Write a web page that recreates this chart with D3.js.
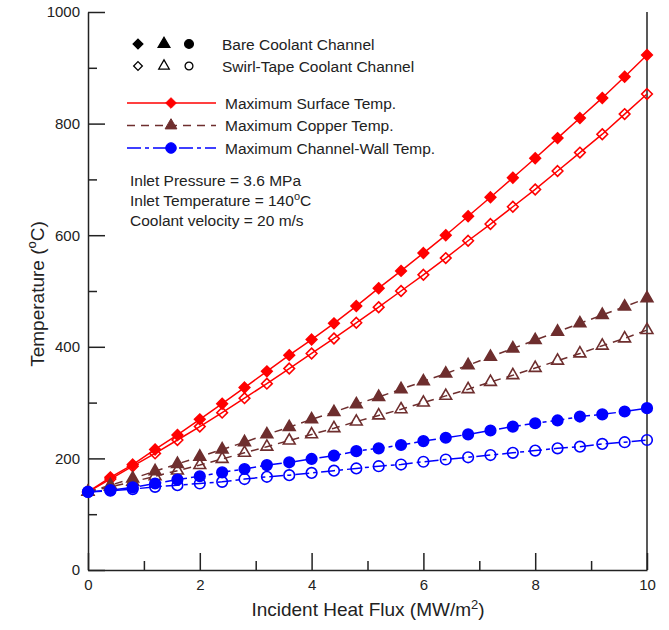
<!DOCTYPE html>
<html>
<head>
<meta charset="utf-8">
<script src="https://cdn.jsdelivr.net/npm/d3@7"></script>
<style>
body { margin: 0; background: #fff; }
text { font-family: "Liberation Sans", Arial, sans-serif; fill: #222; }
</style>
</head>
<body>
<svg id="chart" width="669" height="630"></svg>
<script>
// data
var heatFlux = [0, 0.4, 0.8, 1.2, 1.6, 2.0, 2.4, 2.8, 3.2, 3.6, 4.0, 4.4, 4.8, 5.2, 5.6, 6.0, 6.4, 6.8, 7.2, 7.6, 8.0, 8.4, 8.8, 9.2, 9.6, 10]
var surfaceBare = [140, 166, 189, 216, 242, 270, 298, 327, 356, 385, 413, 442, 473, 505, 536, 568, 600, 634, 668, 703, 738, 774, 810, 846, 884, 923]
var surfaceSwirl = [140, 163, 186, 209, 233, 257, 282, 308, 334, 361, 388, 415, 443, 471, 500, 529, 559, 590, 620, 651, 682, 715, 748, 781, 817, 853]
var copperBare = [140, 152, 164, 177, 190, 203, 216, 229, 243, 256, 270, 283, 297, 310, 324, 338, 352, 367, 382, 397, 412, 427, 442, 457, 472, 487]
var copperSwirl = [140, 149, 158, 168, 178, 188, 199, 210, 221, 232, 243, 254, 266, 277, 288, 300, 312, 324, 337, 349, 362, 375, 388, 402, 415, 430]
var wallBare = [140, 143, 148, 155, 162, 168, 175, 181, 188, 193, 199, 205, 213, 218, 224, 231, 237, 243, 250, 257, 263, 268, 275, 279, 284, 290]
var wallSwirl = [140, 142, 145, 149, 152, 155, 158, 163, 167, 170, 174, 178, 182, 186, 189, 194, 198, 202, 206, 210, 214, 218, 221, 226, 229, 233]

var xMajor = [0, 2, 4, 6, 8, 10], xMinor = [1, 3, 5, 7, 9]
var yMajor = [0, 200, 400, 600, 800, 1000], yMinor = [100, 300, 500, 700, 900]

var seriesNames = ["Maximum Surface Temp.", "Maximum Copper Temp.", "Maximum Channel-Wall Temp."]
var seriesColors = ["#ff0000", "#6e2e2e", "#0000ff"]
var seriesDash = [null, "8,6", "14,4,4,4"]
var seriesShape = [d3.symbolDiamond2, d3.symbolTriangle, d3.symbolCircle]
var seriesSize = [72, 60, 88]
var bare = [surfaceBare, copperBare, wallBare]
var swirl = [surfaceSwirl, copperSwirl, wallSwirl]

var svg = d3.select("#chart")

var x = d3.scaleLinear().domain([0, 10]).range([88, 647])
var y = d3.scaleLinear().domain([0, 1000]).range([570, 12])

// axes, ticks pointing inward
var gx = svg.append("g").attr("transform", "translate(0,570)")
gx.call(d3.axisBottom(x).tickValues(xMajor).tickFormat(d3.format("d")).tickSizeInner(-17).tickSizeOuter(0).tickPadding(9))
gx.append("g").call(d3.axisBottom(x).tickValues(xMinor).tickSizeInner(-9).tickSizeOuter(0).tickFormat(""))
  .select(".domain").remove()

var gy = svg.append("g").attr("transform", "translate(88,0)")
gy.call(d3.axisLeft(y).tickValues(yMajor).tickFormat(d3.format("d")).tickSizeInner(-17).tickSizeOuter(0).tickPadding(8))
gy.append("g").call(d3.axisLeft(y).tickValues(yMinor).tickSizeInner(-9).tickSizeOuter(0).tickFormat(""))
  .select(".domain").remove()

svg.selectAll(".tick text").style("font-size", "15px").style("font-family", '"Liberation Sans", Arial, sans-serif').attr("fill", "#222")
svg.selectAll(".domain, .tick line").attr("stroke", "#222").attr("stroke-width", 1.5)

svg.append("line")
  .attr("x1", x(10)).attr("x2", x(10))
  .attr("y1", y(1000)).attr("y2", y(0))
  .attr("stroke", "#222").attr("stroke-width", 1.5)

// axis titles
var xt = svg.append("text").attr("x", 368).attr("y", 616).attr("text-anchor", "middle").style("font-size", "19px")
xt.append("tspan").text("Incident Heat Flux (MW/m")
xt.append("tspan").attr("dy", -7).style("font-size", "13px").text("2")
xt.append("tspan").attr("dy", 7).text(")")

var yt = svg.append("text").attr("transform", "translate(44,294) rotate(-90)").attr("text-anchor", "middle").style("font-size", "19px")
yt.append("tspan").text("Temperature (")
yt.append("tspan").attr("dy", -8).style("font-size", "13px").text("o")
yt.append("tspan").attr("dy", 8).text("C)")

// series
var line = d3.line()
  .x(function(d, i) { return x(heatFlux[i]) })
  .y(function(d) { return y(d) })

function drawSeries(vals, k, filled) {
  svg.append("path")
    .attr("d", line(vals))
    .attr("fill", "none")
    .attr("stroke", seriesColors[k])
    .attr("stroke-width", 1.5)
    .attr("stroke-dasharray", seriesDash[k])

  svg.append("g").selectAll("path")
    .data(vals)
    .enter()
    .append("path")
    .attr("transform", function(d, i) { return "translate(" + x(heatFlux[i]) + "," + y(d) + ")" })
    .attr("d", d3.symbol().type(seriesShape[k]).size(seriesSize[k]))
    .attr("fill", filled ? seriesColors[k] : "none")
    .attr("stroke", seriesColors[k])
    .attr("stroke-width", 1.6)
}

for (var k = 0; k < 3; k++) {
  drawSeries(swirl[k], k, false)
  drawSeries(bare[k], k, true)
}

// legend
var legend = svg.append("g").style("font-size", "15.5px")
var markX = [138, 164, 189]
;[true, false].forEach(function(filled, r) {
  var ly = 44 + r * 22
  seriesShape.forEach(function(s, j) {
    legend.append("path")
      .attr("transform", "translate(" + markX[j] + "," + ly + ")")
      .attr("d", d3.symbol().type(s).size(filled ? 60 : 48))
      .attr("fill", filled ? "#000" : "none")
      .attr("stroke", "#000")
      .attr("stroke-width", 1.3)
  })
  legend.append("text").attr("x", 222).attr("y", ly + 5.5)
    .text(filled ? "Bare Coolant Channel" : "Swirl-Tape Coolant Channel")
})

seriesNames.forEach(function(name, k) {
  var ly = 103 + k * 22.5
  legend.append("line")
    .attr("x1", 127).attr("x2", 216).attr("y1", ly).attr("y2", ly)
    .attr("stroke", seriesColors[k]).attr("stroke-width", 1.5)
    .attr("stroke-dasharray", seriesDash[k])
  legend.append("path")
    .attr("transform", "translate(171," + ly + ")")
    .attr("d", d3.symbol().type(seriesShape[k]).size(seriesSize[k]))
    .attr("fill", seriesColors[k])
    .attr("stroke", seriesColors[k])
  legend.append("text").attr("x", 225).attr("y", ly + 5.5).text(name)
})

// conditions
var notes = svg.append("g").style("font-size", "15.5px")
notes.append("text").attr("x", 130).attr("y", 186).text("Inlet Pressure = 3.6 MPa")
var nt = notes.append("text").attr("x", 130).attr("y", 206)
nt.append("tspan").text("Inlet Temperature = 140")
nt.append("tspan").attr("dy", -6).style("font-size", "11px").text("o")
nt.append("tspan").attr("dy", 6).text("C")
notes.append("text").attr("x", 130).attr("y", 226).text("Coolant velocity = 20 m/s")
</script>
</body>
</html>
